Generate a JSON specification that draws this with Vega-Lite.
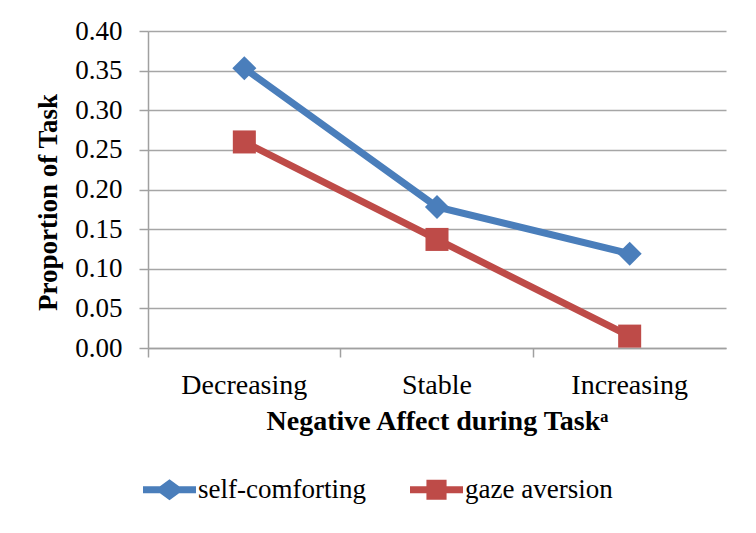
{
  "$schema": "https://vega.github.io/schema/vega-lite/v6.json",
  "width": 578,
  "height": 317,
  "autosize": "none",
  "padding": {"left": 148, "top": 31, "right": 30, "bottom": 185},
  "background": "white",
  "config": {
    "view": {"stroke": null},
    "font": "Liberation Serif",
    "legend": {
      "title": null,
      "padding": 0,
      "symbolOpacity": 1,
      "symbolStrokeWidth": 0,
      "labelFont": "Liberation Serif",
      "labelFontSize": 27,
      "labelColor": "black",
      "labelOffset": 2,
      "labelLimit": 400,
      "columnPadding": 44
    }
  },
  "data": {
    "values": [
      {"trend": "Decreasing", "series": "self-comforting", "value": 0.353},
      {"trend": "Stable", "series": "self-comforting", "value": 0.178},
      {"trend": "Increasing", "series": "self-comforting", "value": 0.119},
      {"trend": "Decreasing", "series": "gaze aversion", "value": 0.260},
      {"trend": "Stable", "series": "gaze aversion", "value": 0.137},
      {"trend": "Increasing", "series": "gaze aversion", "value": 0.015}
    ]
  },
  "encoding": {
    "x": {
      "field": "trend",
      "type": "nominal",
      "sort": ["Decreasing", "Stable", "Increasing"],
      "scale": {"type": "band", "paddingInner": 0, "paddingOuter": 0},
      "axis": {
        "title": "Negative Affect during Taskᵃ",
        "titleFont": "Liberation Serif",
        "titleFontSize": 28,
        "titleFontWeight": "bold",
        "titleColor": "black",
        "titlePadding": 8,
        "labelFont": "Liberation Serif",
        "labelFontSize": 28,
        "labelColor": "black",
        "labelAngle": 0,
        "labelPadding": 14,
        "bandPosition": 0,
        "ticks": true,
        "tickSize": 9,
        "tickColor": "#a0a0a0",
        "tickWidth": 1.5,
        "domainColor": "#a0a0a0",
        "domainWidth": 1.5,
        "grid": false
      }
    },
    "y": {
      "field": "value",
      "type": "quantitative",
      "scale": {"domain": [0, 0.4], "nice": false},
      "axis": {
        "title": "Proportion of Task",
        "titleFont": "Liberation Serif",
        "titleFontSize": 27,
        "titleFontWeight": "bold",
        "titleColor": "black",
        "titlePadding": 12,
        "titleY": 171,
        "values": [0, 0.05, 0.1, 0.15, 0.2, 0.25, 0.3, 0.35, 0.4],
        "format": ".2f",
        "labelFont": "Liberation Serif",
        "labelFontSize": 27,
        "labelColor": "black",
        "labelPadding": 17,
        "tickSize": 9,
        "tickColor": "#a0a0a0",
        "tickWidth": 1.5,
        "domainColor": "#a0a0a0",
        "domainWidth": 1.5,
        "gridColor": "#a6a6a6",
        "gridWidth": 1.5
      }
    },
    "color": {
      "field": "series",
      "type": "nominal",
      "scale": {"domain": ["self-comforting", "gaze aversion"], "range": ["#4A7EBB", "#BE4B48"]},
      "legend": {
        "orient": "none",
        "legendX": -5,
        "legendY": 432,
        "direction": "horizontal",
        "symbolSize": 2809,
        "labelFont": "Liberation Serif",
        "labelFontSize": 27,
        "encode": {
          "symbols": {"update": {"opacity": {"value": 1}, "size": {"value": 2809}}},
          "labels": {"update": {"font": {"value": "Liberation Serif"}, "fontSize": {"value": 27}}}
        }
      }
    }
  },
  "layer": [
    {"mark": {"type": "line", "strokeWidth": 7}},
    {
      "transform": [{"filter": "datum.series === 'self-comforting'"}],
      "mark": {"type": "point", "filled": true, "opacity": 1, "size": 580, "shape": "diamond"}
    },
    {
      "transform": [{"filter": "datum.series === 'gaze aversion'"}],
      "mark": {"type": "point", "filled": true, "opacity": 1, "size": 530, "shape": "square"}
    },
    {
      "mark": {"type": "point", "filled": true, "opacity": 0, "size": 10},
      "encoding": {
        "shape": {
          "field": "series",
          "type": "nominal",
          "scale": {
            "domain": ["self-comforting", "gaze aversion"],
            "range": [
              "M-1,-0.13H-0.36L0,-0.4L0.36,-0.13H1V0.13H0.36L0,0.4L-0.36,0.13H-1Z",
              "M-1,-0.13H-0.38V-0.38H0.38V-0.13H1V0.13H0.38V0.38H-0.38V0.13H-1Z"
            ]
          },
          "legend": {
            "orient": "none",
            "legendX": -5,
            "legendY": 432,
            "direction": "horizontal",
            "symbolSize": 2809,
            "labelFont": "Liberation Serif",
            "labelFontSize": 27,
            "encode": {
              "symbols": {"update": {"opacity": {"value": 1}, "size": {"value": 2809}}},
              "labels": {"update": {"font": {"value": "Liberation Serif"}, "fontSize": {"value": 27}}}
            }
          }
        }
      }
    }
  ]
}
